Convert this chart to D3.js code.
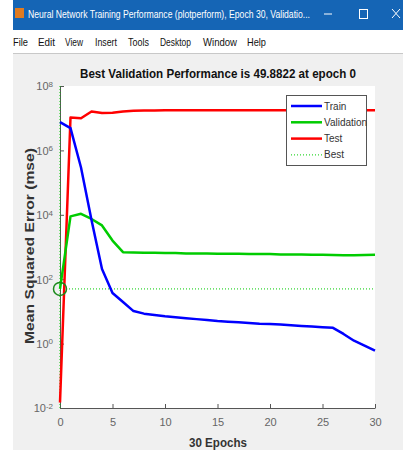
<!DOCTYPE html>
<html><head><meta charset="utf-8">
<script src="https://cdn.jsdelivr.net/npm/d3@7"></script>
<style>body{margin:0;background:#fff}svg{display:block}text{font-family:"Liberation Sans",Arial,sans-serif}</style>
</head><body>
<script>
const epochs = d3.range(0, 31);
const trainLog = [6.88,6.69,5.47,3.84,2.32,1.57,1.29,1.01,0.93,0.89,0.85,0.82,0.79,0.76,0.73,0.70,0.68,0.66,0.64,0.62,0.61,0.59,0.57,0.55,0.53,0.51,0.49,0.30,0.09,-0.06,-0.22];
const valLog   = [1.698,3.95,4.03,3.87,3.67,3.20,2.84,2.83,2.82,2.82,2.81,2.81,2.80,2.80,2.80,2.79,2.79,2.79,2.78,2.78,2.78,2.77,2.77,2.77,2.76,2.76,2.75,2.74,2.74,2.75,2.76];
const testLog  = [-1.83,7.02,7.00,7.21,7.16,7.17,7.21,7.23,7.24,7.24,7.25,7.25,7.25,7.25,7.25,7.25,7.25,7.25,7.25,7.25,7.25,7.25,7.25,7.25,7.25,7.25,7.25,7.25,7.25,7.25,7.25];
const bestEpoch = 0, bestValue = 49.8822;
const xTicks = [0,5,10,15,20,25,30];
const yTickExp = [-2,0,2,4,6,8];
const legendNames = ["Train","Validation","Test","Best"];
const menuItems = ["File","Edit","View","Insert","Tools","Desktop","Window","Help"];
const menuX = [13,38,65,95,128,160,203,247];
const menuW = [15,17,18,22,21,31,34,19];

const W=403,H=455;
const svg=d3.select("body").append("svg").attr("width",W).attr("height",H);
// window chrome
svg.append("rect").attr("x",13).attr("y",0).attr("width",W-13).attr("height",450).attr("fill","#f0f0f0");
svg.append("rect").attr("x",13).attr("y",0).attr("width",W-13).attr("height",30).attr("fill","#1565b5");
svg.append("rect").attr("x",15).attr("y",8).attr("width",9).attr("height",10).attr("fill","#e07b20");
svg.append("text").attr("x",28).attr("y",18).attr("fill","#fff").attr("font-size",10.5).attr("textLength",282).attr("lengthAdjust","spacingAndGlyphs")
  .text("Neural Network Training Performance (plotperform), Epoch 30, Validatio...");
svg.append("line").attr("x1",324).attr("x2",332).attr("y1",14).attr("y2",14).attr("stroke","#fff");
svg.append("rect").attr("x",359.5).attr("y",9.5).attr("width",8).attr("height",9).attr("fill","none").attr("stroke","#fff");
svg.append("path").attr("d","M392,9L400,18M400,9L392,18").attr("stroke","#fff");
svg.append("rect").attr("x",13).attr("y",30).attr("width",W-13).attr("height",23).attr("fill","#fff");
svg.append("line").attr("x1",13).attr("x2",W).attr("y1",53.5).attr("y2",53.5).attr("stroke","#c8c8c8");
menuItems.forEach((m,i)=>svg.append("text").attr("x",menuX[i]).attr("y",46).attr("font-size",10.5).attr("fill","#111")
  .attr("textLength",menuW[i]).attr("lengthAdjust","spacingAndGlyphs").text(m));

// axes
const x=d3.scaleLinear().domain([0,30]).range([60,375]);
const y=d3.scaleLog().domain([1e-2,1e8]).range([408,86]);
svg.append("rect").attr("x",60).attr("y",86).attr("width",315).attr("height",322).attr("fill","#fff");

const gx=svg.append("g").attr("transform","translate(0,408)")
  .call(d3.axisBottom(x).tickValues(xTicks).tickSizeInner(-4).tickSizeOuter(0).tickPadding(10));
gx.select(".domain").attr("stroke","#555");
gx.selectAll(".tick line").attr("stroke","#555");
gx.selectAll("text").attr("font-size",11).attr("fill","#666").attr("font-family","Liberation Sans, Arial");

const gy=svg.append("g").attr("transform","translate(60,0)")
  .call(d3.axisLeft(y).tickValues(yTickExp.map(e=>Math.pow(10,e))).tickSizeInner(-4).tickSizeOuter(0).tickFormat(""));
gy.select(".domain").attr("stroke","#555");
gy.selectAll(".tick line").attr("stroke","#555");
gy.selectAll(".tick").each(function(d,i){
  const t=d3.select(this).append("text").attr("x",-7).attr("dy","0.35em").attr("text-anchor","end").attr("fill","#666").attr("font-size",11);
  t.append("tspan").text("10");
  t.append("tspan").attr("dy","-0.45em").attr("font-size",8).text(String(yTickExp[i]));
});

// best lines
const gb="#00cc00";
svg.append("line").attr("x1",x(0)).attr("x2",x(30)).attr("y1",y(bestValue)).attr("y2",y(bestValue))
  .attr("stroke",gb).attr("stroke-width",1).attr("stroke-dasharray","1,2");
svg.append("line").attr("x1",x(bestEpoch)).attr("x2",x(bestEpoch)).attr("y1",y(1e8)).attr("y2",y(1e-2))
  .attr("stroke",gb).attr("stroke-width",1).attr("stroke-dasharray","1,2");

const line=d3.line().x((d,i)=>x(epochs[i])).y(d=>y(Math.pow(10,d)));
const series=[{v:testLog,c:"#ff0000"},{v:valLog,c:"#00cc00"},{v:trainLog,c:"#0000ff"}];
series.forEach(s=>svg.append("path").datum(s.v).attr("d",line).attr("fill","none").attr("stroke",s.c).attr("stroke-width",2.5).attr("stroke-linejoin","round"));

svg.append("circle").attr("cx",x(bestEpoch)).attr("cy",y(bestValue)).attr("r",6.5).attr("fill","none").attr("stroke","#1a8a1a").attr("stroke-width",1.5);

// title and labels
svg.append("text").attr("x",218).attr("y",78).attr("text-anchor","middle").attr("font-weight","bold").attr("font-size",13.5)
  .attr("textLength",276).attr("lengthAdjust","spacingAndGlyphs").attr("fill","#111").text("Best Validation Performance is 49.8822 at epoch 0");
svg.append("text").attr("transform","translate(34,246) rotate(-90)").attr("text-anchor","middle").attr("font-weight","bold").attr("font-size",12.5)
  .attr("textLength",196).attr("lengthAdjust","spacingAndGlyphs").attr("fill","#333").text("Mean Squared Error  (mse)");
svg.append("text").attr("x",218).attr("y",447).attr("text-anchor","middle").attr("font-weight","bold").attr("font-size",13.5)
  .attr("textLength",58).attr("lengthAdjust","spacingAndGlyphs").attr("fill","#333").text("30 Epochs");

// legend
const lg=svg.append("g");
lg.append("rect").attr("x",286.5).attr("y",95.5).attr("width",80).attr("height",70).attr("fill","#fff").attr("stroke","#555");
const lcol=["#0000ff","#00cc00","#ff0000",gb];
legendNames.forEach((n,i)=>{
  const yy=106+i*16.3;
  lg.append("line").attr("x1",291).attr("x2",322).attr("y1",yy).attr("y2",yy).attr("stroke",lcol[i])
    .attr("stroke-width",i<3?2.5:1).attr("stroke-dasharray",i<3?null:"1,2");
  lg.append("text").attr("x",324).attr("y",yy).attr("dy","0.35em").attr("font-size",10).attr("fill","#333").text(n);
});
</script>
</body></html>
